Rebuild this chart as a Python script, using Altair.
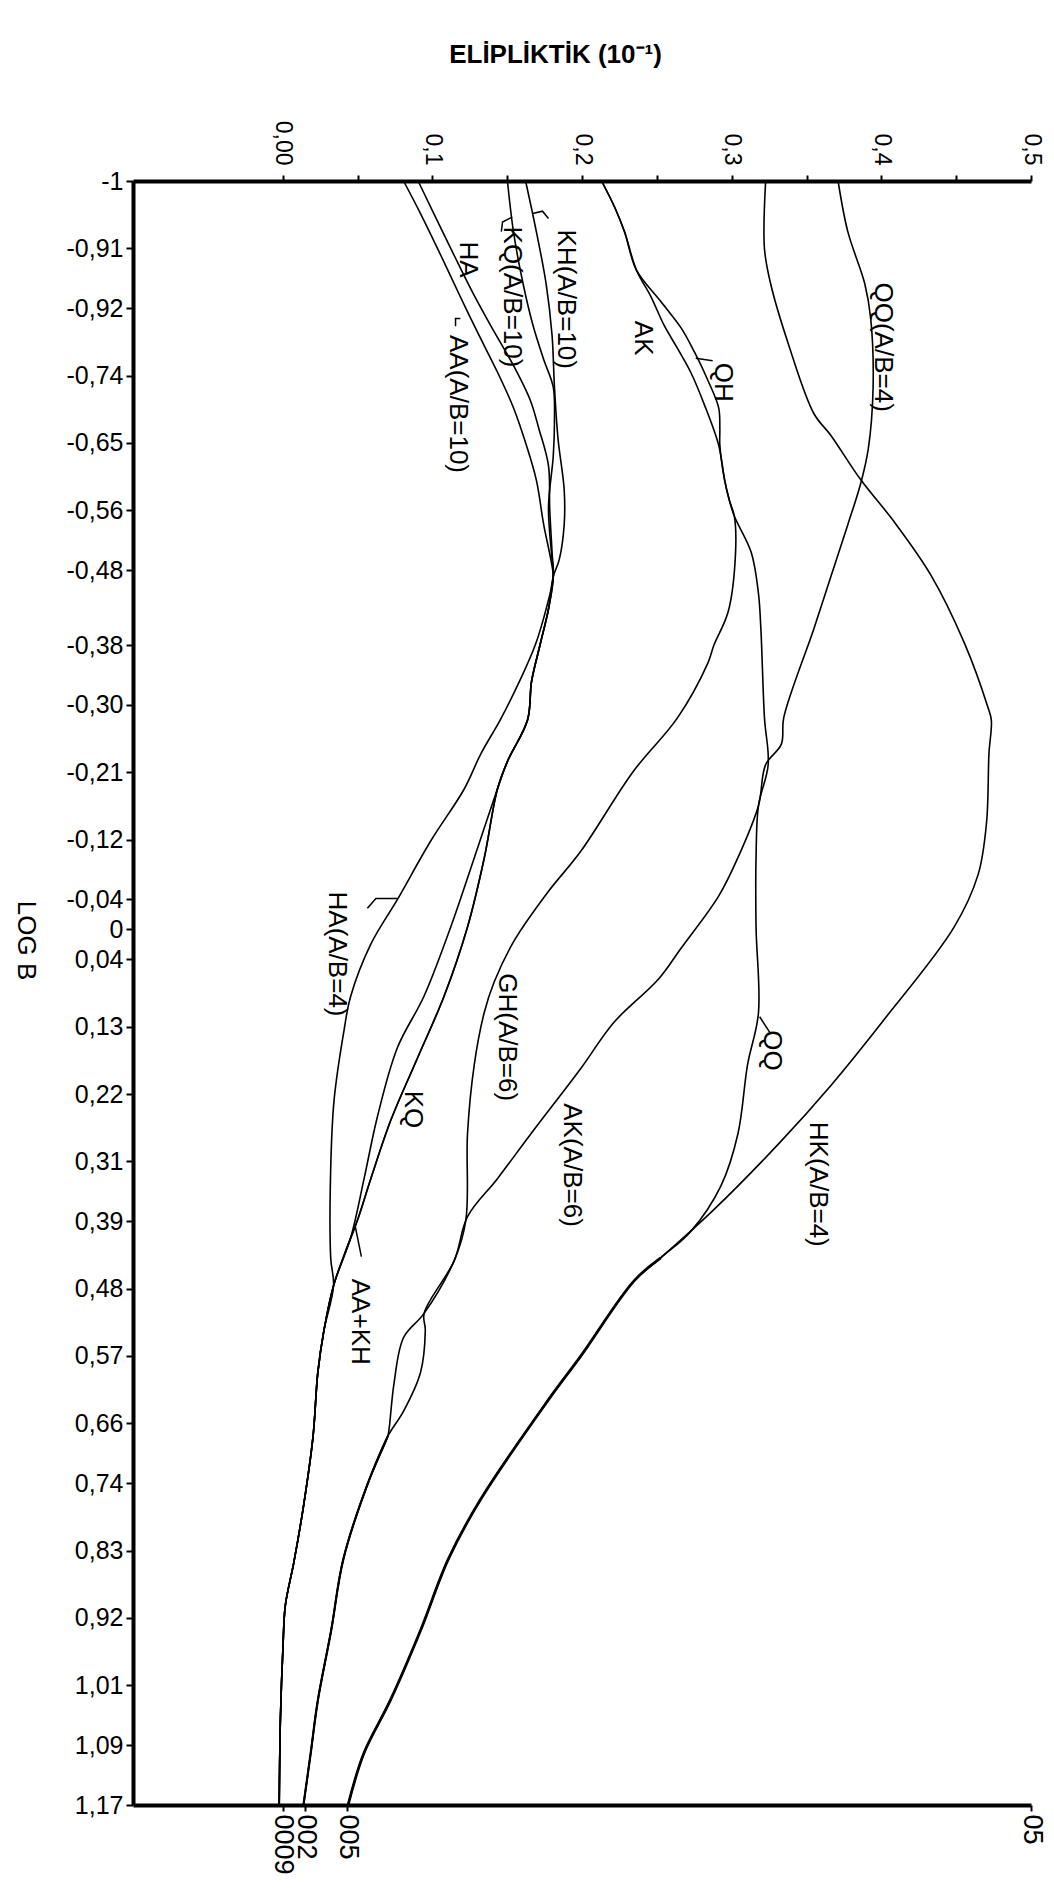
import json
import altair as alt
import pandas as pd

FONT = "Liberation Sans"

# ---------------- axis ticks ----------------
Y_TICK_VALUES = [-1, -0.91, -0.83, -0.74, -0.65, -0.56, -0.48, -0.38, -0.30, -0.21, -0.12, -0.04, 0,
                 0.04, 0.13, 0.22, 0.31, 0.39, 0.48, 0.57, 0.66, 0.74, 0.83, 0.92, 1.01, 1.09, 1.17]
Y_TICK_LABELS = ["-1", "-0,91", "-0,92", "-0,74", "-0,65", "-0,56", "-0,48", "-0,38", "-0,30", "-0,21",
                 "-0,12", "-0,04", "0", "0,04", "0,13", "0,22", "0,31", "0,39", "0,48", "0,57", "0,66",
                 "0,74", "0,83", "0,92", "1,01", "1,09", "1,17"]
TOP_TICK_VALUES = [0, 0.05, 0.1, 0.15, 0.2, 0.25, 0.3, 0.35, 0.4, 0.45, 0.5]
TOP_TICK_LABELS = ["0,00", "", "0,1", "", "0,2", "", "0,3", "", "0,4", "", "0,5"]
BOTTOM_TICK_VALUES = [0.0, 0.015, 0.043, 0.5]
BOTTOM_TICK_LABELS = ["0009", "002", "005", "05"]

# ---------------- curve segments (x = eliptiklik, y = log B) ----------------
SEG_A_X = [0.0808, 0.0921, 0.1058, 0.1187, 0.1300, 0.1437, 0.1542, 0.1623, 0.1695, 0.1744, 0.1792, 0.1808]
SEG_A_Y = [-1, -0.9565, -0.9001, -0.8453, -0.7986, -0.7438, -0.6971, -0.6503, -0.6004, -0.5408, -0.4940, -0.4715]
SEG_B_X = [0.0905, 0.1010, 0.1147, 0.1276, 0.1413, 0.1542, 0.1655, 0.1711, 0.1776, 0.1784, 0.1800, 0.1808]
SEG_B_Y = [-1, -0.9565, -0.9001, -0.8485, -0.7986, -0.7535, -0.7067, -0.6697, -0.6197, -0.5633, -0.5037, -0.4715]
SEG_C_X = [0.1502, 0.1542, 0.1606, 0.1671, 0.1744, 0.1808, 0.1816, 0.1808, 0.1776, 0.1800, 0.1808]
SEG_C_Y = [-1, -0.9323, -0.8630, -0.8083, -0.7615, -0.7245, -0.6793, -0.6326, -0.5633, -0.4940, -0.4715]
SEG_D_X = [0.1623, 0.1695, 0.1760, 0.1800, 0.1816, 0.1840, 0.1881, 0.1881, 0.1848, 0.1808]
SEG_D_Y = [-1, -0.9323, -0.8630, -0.7937, -0.7245, -0.6552, -0.5875, -0.5408, -0.4940, -0.4715]

V_SHARED_X = [0.1776, 0.1719, 0.1663, 0.1636, 0.1502, 0.1435]
V_SHARED_Y = [-0.4280, -0.3796, -0.3313, -0.2798, -0.2245, -0.1876]
V_LOWER_X = [0.1347, 0.1235, 0.1079, 0.0901, 0.0723, 0.0589, 0.0500, 0.0413, 0.0340]
V_LOWER_Y = [-0.0954, -0.0032, 0.0890, 0.1718, 0.2548, 0.3331, 0.3884, 0.4341, 0.4760]
X_LOWER_X = [0.1280, 0.1123, 0.0945, 0.0767, 0.0633, 0.0544, 0.0455, 0.0340]
X_LOWER_Y = [-0.0954, -0.0032, 0.0890, 0.1579, 0.2503, 0.3331, 0.4114, 0.4760]
W_X = [0.1760, 0.1687, 0.1582, 0.1453, 0.1324, 0.1213, 0.0990, 0.0767, 0.0589, 0.0455, 0.0410, 0.0344,
       0.0321, 0.0321, 0.0340]
W_Y = [-0.4280, -0.3796, -0.3313, -0.2797, -0.2346, -0.1876, -0.1184, -0.0401, 0.0197, 0.0890, 0.1349,
       0.2271, 0.3192, 0.4389, 0.4760]
BOTTOM_0009_X = [0.0276, 0.0235, 0.0203, 0.0139, 0.0074, 0.0018, 0.0002, -0.0015, -0.0023]
BOTTOM_0009_Y = [0.5356, 0.5920, 0.6774, 0.7709, 0.8466, 0.9030, 0.9594, 1.0545, 1.17]

AK_TOP_X = [0.2131, 0.2219, 0.2284, 0.2364, 0.2461, 0.2550, 0.2639, 0.2728, 0.2816, 0.2913]
AK_TOP_Y = [-1, -0.9646, -0.9323, -0.8808, -0.8453, -0.8066, -0.7760, -0.7438, -0.7019, -0.6471]
JOINT_X = [0.2953, 0.2985, 0.3018]
JOINT_Y = [-0.6004, -0.5730, -0.5520]
AK_LEFT_X = [0.3026, 0.2977, 0.2881, 0.2840, 0.2639, 0.2340]
AK_LEFT_Y = [-0.5037, -0.4247, -0.3796, -0.3555, -0.2830, -0.2104]
GH_X = [0.1993, 0.1770, 0.1547, 0.1413, 0.1346, 0.1280, 0.1235, 0.1224]
GH_Y = [-0.1047, -0.0493, 0.0151, 0.0704, 0.1118, 0.1809, 0.2731, 0.3884]
JUNC_002_X = [0.1147, 0.0945]
JUNC_002_Y = [0.4422, 0.5131]
LOOP_RIGHT_X = [0.0953, 0.0921, 0.0808, 0.0702]
LOOP_RIGHT_Y = [0.5356, 0.5920, 0.6436, 0.6774]
LOOP_LEFT_X = [0.0808, 0.0744, 0.0711, 0.0702]
LOOP_LEFT_Y = [0.5453, 0.6065, 0.6678, 0.6774]
BOTTOM_002_X = [0.0566, 0.0405, 0.0324, 0.0235, 0.0187, 0.0139]
BOTTOM_002_Y = [0.7419, 0.8418, 0.9368, 1.0303, 1.1012, 1.17]

QH_BRANCH_X = [0.2527, 0.2663, 0.2752, 0.2840, 0.2913, 0.2921, 0.2921]
QH_BRANCH_Y = [-0.8389, -0.8034, -0.7712, -0.7341, -0.6971, -0.6697, -0.6471]
QH_RIGHT_X = [0.3131, 0.3179, 0.3195, 0.3219]
QH_RIGHT_Y = [-0.5037, -0.4489, -0.4022, -0.2830]
Q_SEG_X = [0.3244, 0.3179, 0.3163, 0.3163, 0.3179, 0.3106, 0.3042, 0.2929, 0.2727]
Q_SEG_Y = [-0.2201, -0.1653, -0.0960, -0.0026, 0.1118, 0.1811, 0.2730, 0.3423, 0.4035]

HK_TOP_X = [0.3227, 0.3219, 0.3260, 0.3381, 0.3550, 0.3663, 0.3864, 0.4082, 0.4332, 0.4558, 0.4711, 0.4735,
            0.4719, 0.4703, 0.4647, 0.4485, 0.4002, 0.3663, 0.3332, 0.2881]
HK_TOP_Y = [-1, -0.9098, -0.8630, -0.7809, -0.6890, -0.6600, -0.6004, -0.5456, -0.4731, -0.3812, -0.2974,
            -0.2797, -0.2346, -0.1428, -0.0735, -0.0026, 0.1247, 0.2085, 0.2826, 0.3745]
HK_BOTTOM_X = [0.2526, 0.2348, 0.1994, 0.1768, 0.1324, 0.1106, 0.0921, 0.0719, 0.0542, 0.0437]
HK_BOTTOM_Y = [0.4389, 0.4696, 0.5695, 0.6307, 0.7612, 0.8418, 0.9368, 1.0303, 1.1012, 1.17]

QQ_TOP_X = [0.3711, 0.3776, 0.3889, 0.3929, 0.3945, 0.3913, 0.3864, 0.3776, 0.3663, 0.3550, 0.3348]
QQ_TOP_Y = [-1, -0.9323, -0.8630, -0.8163, -0.7245, -0.6423, -0.5972, -0.5408, -0.4715, -0.4022, -0.2830]
R_SEG_X = [0.3332, 0.3227, 0.3179, 0.3042, 0.2913, 0.2663, 0.2510, 0.2211]
R_SEG_Y = [-0.2475, -0.2201, -0.1653, -0.0960, -0.0445, 0.0248, 0.0667, 0.1247]
AK6_X = [0.1993, 0.1659, 0.1435, 0.1235]
AK6_Y = [0.1856, 0.2731, 0.3331, 0.3839]

CURVES = [
    ("AA(A/B=10)", SEG_A_X + V_SHARED_X + V_LOWER_X + BOTTOM_0009_X,
     SEG_A_Y + V_SHARED_Y + V_LOWER_Y + BOTTOM_0009_Y),
    ("HA", SEG_B_X + W_X + BOTTOM_0009_X, SEG_B_Y + W_Y + BOTTOM_0009_Y),
    ("KQ(A/B=10)", SEG_C_X + V_SHARED_X + X_LOWER_X + BOTTOM_0009_X,
     SEG_C_Y + V_SHARED_Y + X_LOWER_Y + BOTTOM_0009_Y),
    ("KH(A/B=10)", SEG_D_X + V_SHARED_X + V_LOWER_X + BOTTOM_0009_X,
     SEG_D_Y + V_SHARED_Y + V_LOWER_Y + BOTTOM_0009_Y),
    ("AK", AK_TOP_X + JOINT_X + AK_LEFT_X + GH_X + JUNC_002_X + LOOP_RIGHT_X + BOTTOM_002_X,
     AK_TOP_Y + JOINT_Y + AK_LEFT_Y + GH_Y + JUNC_002_Y + LOOP_RIGHT_Y + BOTTOM_002_Y),
    ("QH", AK_TOP_X[:4] + QH_BRANCH_X + JOINT_X + QH_RIGHT_X + Q_SEG_X + HK_BOTTOM_X,
     AK_TOP_Y[:4] + QH_BRANCH_Y + JOINT_Y + QH_RIGHT_Y + Q_SEG_Y + HK_BOTTOM_Y),
    ("HK(A/B=4)", HK_TOP_X + HK_BOTTOM_X, HK_TOP_Y + HK_BOTTOM_Y),
    ("QQ(A/B=4)", QQ_TOP_X + R_SEG_X + AK6_X + JUNC_002_X + LOOP_LEFT_X + BOTTOM_002_X,
     QQ_TOP_Y + R_SEG_Y + AK6_Y + JUNC_002_Y + LOOP_LEFT_Y + BOTTOM_002_Y),
]

# heavier pen strokes near the bottom of the two outer curves
BOLD_CURVES = [
    ("hk_bold", HK_BOTTOM_X, HK_BOTTOM_Y, 2.8),
    ("c002_bold", [0.0702] + BOTTOM_002_X, [0.6774] + BOTTOM_002_Y, 2.2),
]

# ---------------- curve labels ----------------
LABEL_TEXT = ["HA", "KQ(A/B=10)", "KH(A/B=10)", "AA(A/B=10)", "AK", "QH", "QQ(A/B=4)",
              "HA(A/B=4)", "KQ", "GH(A/B=6)", "AK(A/B=6)", "QQ", "HK(A/B=4)", "AA+KH"]
LABEL_X = [0.124, 0.153, 0.189, 0.117, 0.241, 0.2945, 0.401, 0.0364, 0.0873, 0.1502, 0.193, 0.3268, 0.358, 0.0518]
LABEL_Y = [-0.895, -0.845, -0.842, -0.702, -0.79, -0.731, -0.778, 0.0329, 0.2407, 0.1441, 0.3149, 0.1618,
           0.3406, 0.5243]

# small hand-drawn leader strokes
LEADERS = [
    ("kq", [0.1534, 0.1469, 0.1461], [-0.9517, -0.9452, -0.9323]),
    ("kh", [0.1671, 0.1736, 0.1776], [-0.9565, -0.9597, -0.9500]),
    ("aa", [0.1187, 0.1155, 0.1155], [-0.8163, -0.8163, -0.8060]),
    ("qh", [0.2760, 0.2873], [-0.7631, -0.7599]),
    ("ha4", [0.0566, 0.0623, 0.0768], [-0.0284, -0.0412, -0.0412]),
    ("qq", [0.3187, 0.3260], [0.1167, 0.1392]),
    ("aakh", [0.0485, 0.0526], [0.3970, 0.4373]),
]

rows = []
for name, xs, ys in CURVES:
    for i, (xv, yv) in enumerate(zip(xs, ys)):
        rows.append({"curve": name, "i": i, "x": xv, "y": yv})
curves_df = pd.DataFrame(rows)

brows = []
for name, xs, ys, w in BOLD_CURVES:
    for i, (xv, yv) in enumerate(zip(xs, ys)):
        brows.append({"curve": name, "i": i, "x": xv, "y": yv, "w": w})
bold_df = pd.DataFrame(brows)

lrows = []
for name, xs, ys in LEADERS:
    for i, (xv, yv) in enumerate(zip(xs, ys)):
        lrows.append({"leader": name, "i": i, "x": xv, "y": yv})
leaders_df = pd.DataFrame(lrows)

labels_df = pd.DataFrame({"label": LABEL_TEXT, "x": LABEL_X, "y": LABEL_Y})
bottom_df = pd.DataFrame({"x": BOTTOM_TICK_VALUES, "y": [1.17] * len(BOTTOM_TICK_VALUES)})


def lookup_expr(labels, values):
    return "{}[indexof({}, datum.value)]".format(json.dumps(labels, ensure_ascii=False), json.dumps(values))


xscale = alt.Scale(domain=[-0.1, 0.5], nice=False, zero=False)
yscale = alt.Scale(domain=[-1, 1.17], reverse=True, nice=False, zero=False)

top_axis = alt.Axis(
    orient="top", values=TOP_TICK_VALUES, labelExpr=lookup_expr(TOP_TICK_LABELS, TOP_TICK_VALUES),
    labelAngle=90, labelAlign="right", labelBaseline="middle", labelFontSize=23, labelFont=FONT,
    labelColor="black", labelPadding=10, labelOverlap=False, labelFlush=False,
    tickSize=6, tickWidth=2, tickColor="black", domainWidth=4, domainColor="black", grid=False,
    title="ELİPLİKTİK (10⁻¹)", titleFont=FONT, titleFontSize=26, titleFontWeight="bold",
    titleColor="black", titleAngle=0, titleX=422, titleY=-127, titleAlign="center", titleBaseline="middle",
)
bottom_axis = alt.Axis(
    orient="bottom", values=BOTTOM_TICK_VALUES, labelExpr=lookup_expr(BOTTOM_TICK_LABELS, BOTTOM_TICK_VALUES),
    labelAngle=90, labelAlign="left", labelBaseline="middle", labelFontSize=27, labelFont=FONT,
    labelColor="black", labelPadding=3, labelOverlap=False, labelFlush=False,
    tickSize=6, tickWidth=2, tickColor="black", domainWidth=4, domainColor="black", grid=False, title="",
)
y_axis = alt.Axis(
    orient="left", values=Y_TICK_VALUES, labelExpr=lookup_expr(Y_TICK_LABELS, Y_TICK_VALUES),
    labelFontSize=25, labelFont=FONT, labelColor="black", labelPadding=3, labelAlign="right",
    labelBaseline="middle", labelOverlap=False,
    tickSize=7, tickWidth=2, tickColor="black", domainWidth=4, domainColor="black", grid=False,
    title="LOG B", titleFont=FONT, titleFontSize=26, titleFontWeight="normal", titleColor="black",
    titleAngle=90, titleX=-108, titleY=759, titleAlign="center", titleBaseline="middle",
)

Y_ENC = alt.Y("y:Q", scale=yscale, axis=y_axis)

lines = alt.Chart(curves_df).mark_line(color="black", strokeWidth=1.6, interpolate="catmull-rom").encode(
    x=alt.X("x:Q", scale=xscale, axis=top_axis),
    y=Y_ENC,
    detail="curve:N",
    order="i:Q",
)
bold = alt.Chart(bold_df).mark_line(color="black", interpolate="catmull-rom").encode(
    x=alt.X("x:Q", scale=xscale, axis=None),
    y=Y_ENC,
    detail="curve:N",
    order="i:Q",
    strokeWidth=alt.StrokeWidth("w:Q", scale=None, legend=None),
)
leaders = alt.Chart(leaders_df).mark_line(color="black", strokeWidth=1.5).encode(
    x=alt.X("x:Q", scale=xscale, axis=None),
    y=Y_ENC,
    detail="leader:N",
    order="i:Q",
)
labels = alt.Chart(labels_df).mark_text(
    angle=90, font=FONT, fontSize=26, color="black", align="center", baseline="middle"
).encode(
    x=alt.X("x:Q", scale=xscale, axis=None),
    y=Y_ENC,
    text="label:N",
)
bottom = alt.Chart(bottom_df).mark_point(opacity=0).encode(
    x=alt.X("x:Q", scale=xscale, axis=bottom_axis),
    y=Y_ENC,
)

chart = alt.layer(lines, bold, leaders, labels, bottom).resolve_axis(x="independent", y="shared").properties(
    width=898, height=1624,
    autosize=alt.AutoSizeParams(type="none"),
    padding={"left": 125, "top": 173, "right": 15, "bottom": 78},
).configure(font=FONT, background="white").configure_view(strokeWidth=0)

chart.save("out.html", embed_options={"renderer": "svg", "actions": False})
